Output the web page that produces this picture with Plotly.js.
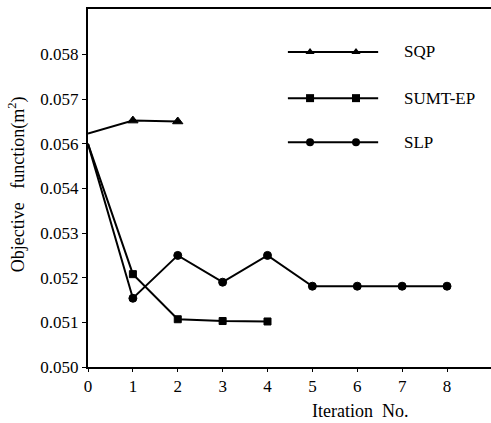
<!DOCTYPE html>
<html>
<head>
<meta charset="utf-8">
<script src="https://cdn.plot.ly/plotly-3.0.1.min.js"></script>
<style>html,body{margin:0;padding:0;background:#fff;}#chart{width:491px;height:423px;}</style>
</head>
<body>
<div id="chart"></div>
<script>
// Iteration numbers
const iterSQP = [0, 1, 2];
const iterSUMT = [0, 1, 2, 3, 4];
const iterSLP = [0, 1, 2, 3, 4, 5, 6, 7, 8];
// Values in the chart's (evenly spaced) axis units
const valSQP = [0.05523, 0.05552, 0.05550];
const valSUMT = [0.05500, 0.05208, 0.05107, 0.05103, 0.05102];
const valSLP = [0.05500, 0.05154, 0.05250, 0.05190, 0.05250, 0.05181, 0.05181, 0.05181, 0.05181];
// Tick positions and the labels printed on them
const yTickVals = [0.050, 0.051, 0.052, 0.053, 0.054, 0.055, 0.056, 0.057];
const yTickText = ["0.050", "0.051", "0.052", "0.053", "0.054", "0.056", "0.057", "0.058"];
const xTickVals = [0, 1, 2, 3, 4, 5, 6, 7, 8];
const seriesNames = ["SQP", "SUMT-EP", "SLP"];
const seriesSymbols = ["triangle-up", "square", "circle"];

const FONT = "'Liberation Serif', 'Times New Roman', 'DejaVu Serif', serif";
const lineStyle = {color: "#000", width: 2};
// no marker drawn at the starting point (iteration 0)
const sizes = (xs, s) => xs.map(x => (x === 0 ? 0 : s));
const mk = (sym, xs, s) => ({symbol: sym, size: sizes(xs, s), color: "#000", opacity: 1,
  line: {color: "#000", width: 1}});

const traces = [
  {x: iterSQP, y: valSQP, name: seriesNames[0], mode: "lines+markers", line: lineStyle,
   marker: mk(seriesSymbols[0], iterSQP, 9), cliponaxis: false},
  {x: iterSUMT, y: valSUMT, name: seriesNames[1], mode: "lines+markers", line: lineStyle,
   marker: mk(seriesSymbols[1], iterSUMT, 7), cliponaxis: false},
  {x: iterSLP, y: valSLP, name: seriesNames[2], mode: "lines+markers", line: lineStyle,
   marker: mk(seriesSymbols[2], iterSLP, 8), cliponaxis: false}
];

// Custom legend: long line with two markers, drawn on a hidden overlay axis (0..1 of plot area)
const legY = [0.880, 0.751, 0.628];
seriesNames.forEach((n, i) => {
  traces.push({x: [0.496, 0.720], y: [legY[i], legY[i]], xaxis: "x2", yaxis: "y2",
    mode: "lines", line: lineStyle, showlegend: false, hoverinfo: "skip"});
  traces.push({x: [0.551, 0.665], y: [legY[i], legY[i]], xaxis: "x2", yaxis: "y2",
    mode: "markers", marker: {symbol: seriesSymbols[i], size: 8, color: "#000"},
    showlegend: false, hoverinfo: "skip"});
});

const annotations = seriesNames.map((n, i) => ({
  xref: "x2", yref: "y2", x: 0.78, y: legY[i], text: n, showarrow: false,
  xanchor: "left", yanchor: "middle", font: {family: FONT, size: 17, color: "#000"}
}));
annotations.push({xref: "paper", yref: "paper", x: 0.675, y: -0.09, yanchor: "top",
  xanchor: "center", text: "Iteration&nbsp;&nbsp;No.", showarrow: false,
  font: {family: FONT, size: 18, color: "#000"}});
annotations.push({xref: "paper", yref: "paper", x: -0.174, y: 0.51, textangle: -90,
  xanchor: "center", yanchor: "middle", text: "Objective&nbsp;&nbsp;&nbsp;function(m<sup>2</sup>)",
  showarrow: false, font: {family: FONT, size: 18, color: "#000"}});

const layout = {
  width: 491, height: 423,
  margin: {l: 88, r: 0, t: 9, b: 56},
  paper_bgcolor: "#fff", plot_bgcolor: "#fff",
  showlegend: false,
  font: {family: FONT, size: 17, color: "#000"},
  xaxis: {range: [0, 8.98], tickvals: xTickVals, ticks: "outside", ticklen: 3,
    tickcolor: "#000", showline: true, linecolor: "#000", linewidth: 2, mirror: true,
    showgrid: false, zeroline: false, tickfont: {family: FONT, size: 17}},
  yaxis: {range: [0.050, 0.05802], tickvals: yTickVals, ticktext: yTickText,
    ticks: "outside", ticklen: 4, tickcolor: "#000", showline: true, linecolor: "#000",
    linewidth: 2, showgrid: false, zeroline: false, tickfont: {family: FONT, size: 17}},
  xaxis2: {overlaying: "x", range: [0, 1], anchor: "y2", visible: false},
  yaxis2: {overlaying: "y", range: [0, 1], anchor: "x2", visible: false},
  annotations: annotations
};

Plotly.newPlot("chart", traces, layout, {staticPlot: true, displayModeBar: false});
</script>
</body>
</html>
